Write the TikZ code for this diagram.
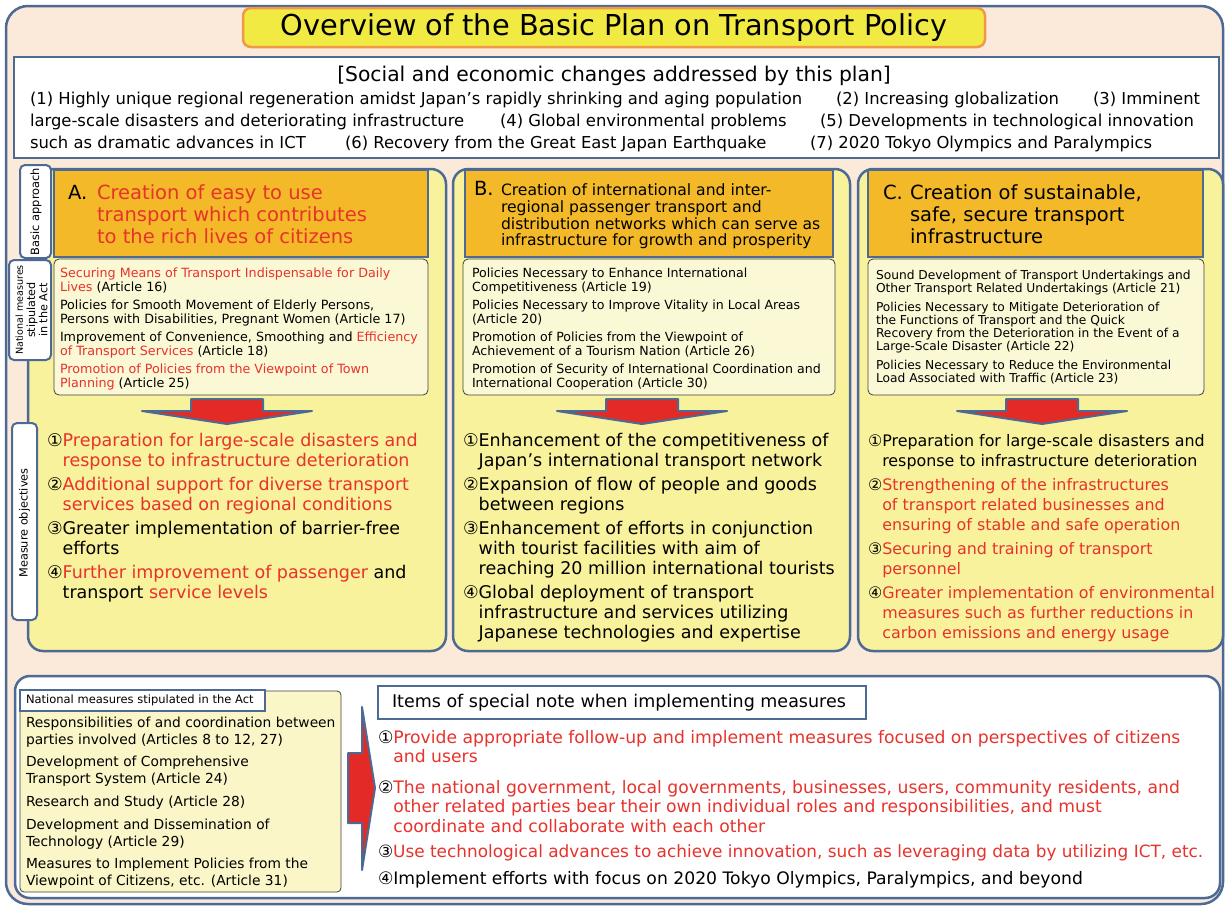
\documentclass[tikz,border=0pt]{standalone}
\usepackage{fontspec}
\setmainfont{DejaVu Sans}
\definecolor{bgpeach}{HTML}{FBE9DA}
\definecolor{frameblue}{HTML}{4C6A94}
\definecolor{titleyel}{HTML}{F1EA42}
\definecolor{titleorg}{HTML}{F0984A}
\definecolor{colyel}{HTML}{F8F29C}
\definecolor{headorg}{HTML}{F3B928}
\definecolor{paleyel}{HTML}{FBF8D6}
\definecolor{paleyelb}{HTML}{FAF6C8}
\definecolor{tred}{HTML}{E8322C}
\definecolor{arrred}{HTML}{E42A26}
\newcommand\myfs[2]{\fontsize{#1}{#2}\selectfont}
\begin{document}
\begin{tikzpicture}[x=1pt,y=-1pt,
  frame/.style={draw=frameblue, line width=2.5pt},
  txt/.style={inner sep=0pt, outer sep=0pt, anchor=north west, align=left},
  ltxt/.style={inner sep=0pt, outer sep=0pt, anchor=west},
  btxt/.style={inner sep=0pt, outer sep=0pt, anchor=base west},
  measbox/.style={draw=black!75, line width=0.8pt, fill=paleyel, rounded corners=5pt},
  colbox/.style={frame, fill=colyel, rounded corners=15pt},
  headbox/.style={frame, fill=headorg},
  sidebox/.style={draw=frameblue, line width=2pt, fill=white, rounded corners=5pt},
  blockarrow/.style={fill=arrred, draw=frameblue, line width=2pt, line join=round},
  downarr/.pic={\filldraw[blockarrow] (-36,-12)--(36,-12)--(36,0)--(85,0)--(0,13)--(-85,0)--(-36,0)--cycle;}
]
\useasboundingbox (0,0) rectangle (1228,908);
% outer frame
\draw[frame, fill=bgpeach, rounded corners=22pt] (6,6) rectangle (1223,904);
% title
\node[draw=titleorg, line width=2.5pt, fill=titleyel, rounded corners=8pt, minimum width=742pt, minimum height=39pt, inner sep=0pt, font=\myfs{28.8}{30}] (title) at (614,27.5) {Overview of the Basic Plan on Transport Policy};
% social changes
\draw[frame, fill=white] (14,57) rectangle (1219,158);
\node[btxt, anchor=base, font=\myfs{20.3}{22}] (sochead) at (614,81) {[Social and economic changes addressed by this plan]};
\begin{scope}[every node/.style={btxt, font=\myfs{16.4}{18}}]
\node (s1) at (30,104) {(1) Highly unique regional regeneration amidst Japan's rapidly shrinking and aging population};
\node (s2) at (836,104) {(2) Increasing globalization};
\node (s3) at (1093,104) {(3) Imminent};
\node (s3b) at (30,126) {large-scale disasters and deteriorating infrastructure};
\node (s4) at (500,126) {(4) Global environmental problems};
\node (s5) at (820,126) {(5) Developments in technological innovation};
\node (s5b) at (30,148) {such as dramatic advances in ICT};
\node (s6) at (345,148) {(6) Recovery from the Great East Japan Earthquake};
\node (s7) at (810,148) {(7) 2020 Tokyo Olympics and Paralympics};
\end{scope}
% ---------- column A
\draw[colbox] (28,169) rectangle (446,651);
\draw[headbox] (54,170) rectangle (428,257);
\node[btxt, font=\myfs{19.5}{22}] (hAl) at (68,199) {A.};
\node[txt, font=\myfs{19.5}{22}, text=tred] (hA) at (97,184.2) {Creation of easy to use\\transport which contributes\\to the rich lives of citizens};
\draw[measbox] (54,259) rectangle (428,395);
\node[txt, font=\myfs{12.7}{14}] (mA) at (60,267.9) {\textcolor{tred}{Securing Means of Transport Indispensable for Daily}\\\textcolor{tred}{Lives} (Article 16)\\[4pt]Policies for Smooth Movement of Elderly Persons,\\Persons with Disabilities, Pregnant Women (Article 17)\\[4pt]Improvement of Convenience, Smoothing and \textcolor{tred}{Efficiency}\\\textcolor{tred}{of Transport Services} (Article 18)\\[4pt]\textcolor{tred}{Promotion of Policies from the Viewpoint of Town}\\\textcolor{tred}{Planning} (Article 25)};
\pic (arrA) at (227,411) {downarr};
\node[txt, font=\myfs{17.5}{20}] (oA) at (47,433) {①\textcolor{tred}{Preparation for large-scale disasters and}\\\phantom{①}\textcolor{tred}{response to infrastructure deterioration}\\[4pt]②\textcolor{tred}{Additional support for diverse transport}\\\phantom{①}\textcolor{tred}{services based on regional conditions}\\[4pt]③Greater implementation of barrier-free\\\phantom{①}efforts\\[4pt]④\textcolor{tred}{Further improvement of passenger} and\\\phantom{①}transport \textcolor{tred}{service levels}};
% ---------- column B
\draw[colbox] (453,169) rectangle (850,651);
\draw[headbox] (465,170) rectangle (833,257);
\node[btxt, font=\myfs{19.5}{22}] (hBl) at (474,195.7) {B.};
\node[txt, font=\myfs{15.6}{16.7}] (hB) at (501,183.8) {Creation of international and inter-\\regional passenger transport and\\distribution networks which can serve as\\infrastructure for growth and prosperity};
\draw[measbox] (463,259) rectangle (835,395);
\node[txt, font=\myfs{12.6}{14}] (mB) at (472,268) {Policies Necessary to Enhance International\\Competitiveness (Article 19)\\[4pt]Policies Necessary to Improve Vitality in Local Areas\\(Article 20)\\[4pt]Promotion of Policies from the Viewpoint of\\Achievement of a Tourism Nation (Article 26)\\[4pt]Promotion of Security of International Coordination and\\International Cooperation (Article 30)};
\pic (arrB) at (642,411) {downarr};
\node[txt, font=\myfs{17.5}{20}] (oB) at (463,433) {①Enhancement of the competitiveness of\\\phantom{①}Japan's international transport network\\[4pt]②Expansion of flow of people and goods\\\phantom{①}between regions\\[4pt]③Enhancement of efforts in conjunction\\\phantom{①}with tourist facilities with aim of\\\phantom{①}reaching 20 million international tourists\\[4pt]④Global deployment of transport\\\phantom{①}infrastructure and services utilizing\\\phantom{①}Japanese technologies and expertise};
% ---------- column C
\draw[colbox] (858,169) rectangle (1223,651);
\draw[headbox] (868,170) rectangle (1203,257);
\node[btxt, font=\myfs{19.5}{22}] (hCl) at (883,199) {C.};
\node[txt, font=\myfs{19.5}{22}] (hC) at (910,184.2) {Creation of sustainable,\\safe, secure transport\\infrastructure};
\draw[measbox] (868,259) rectangle (1204,395);
\node[txt, font=\myfs{12.25}{13.3}] (mC) at (876,270.1) {Sound Development of Transport Undertakings and\\Other Transport Related Undertakings (Article 21)\\[5pt]Policies Necessary to Mitigate Deterioration of\\the Functions of Transport and the Quick\\Recovery from the Deterioration in the Event of a\\Large-Scale Disaster (Article 22)\\[5pt]Policies Necessary to Reduce the Environmental\\Load Associated with Traffic (Article 23)};
\pic (arrC) at (1042,411) {downarr};
\node[txt, font=\myfs{15.9}{20}] (oC) at (868,434) {①Preparation for large-scale disasters and\\\phantom{①}response to infrastructure deterioration\\[4pt]②\textcolor{tred}{Strengthening of the infrastructures}\\\phantom{①}\textcolor{tred}{of transport related businesses and}\\\phantom{①}\textcolor{tred}{ensuring of stable and safe operation}\\[4pt]③\textcolor{tred}{Securing and training of transport}\\\phantom{①}\textcolor{tred}{personnel}\\[4pt]④\textcolor{tred}{Greater implementation of environmental}\\\phantom{①}\textcolor{tred}{measures such as further reductions in}\\\phantom{①}\textcolor{tred}{carbon emissions and energy usage}};
% ---------- side labels
\draw[sidebox] (20,165) rectangle (51,258);
\node[inner sep=0pt, rotate=90, font=\myfs{11.4}{12}] (lbBasic) at (36,211.5) {Basic approach};
\draw[sidebox] (9,260) rectangle (51,360);
\node[inner sep=0pt, rotate=90, align=center, font=\myfs{11.2}{12.3}] (lbNat) at (31.5,310) {{\myfs{9.6}{12.3}National measures}\\stipulated\\in the Act};
\draw[sidebox] (12,423) rectangle (37,620);
\node[inner sep=0pt, rotate=90, font=\myfs{11.3}{12}] (lbObj) at (24.5,523) {Measure objectives};
% ---------- bottom section
\draw[frame, fill=white, rounded corners=15pt] (15,676) rectangle (1220,898);
\draw[draw=black!75, line width=0.8pt, fill=paleyelb, rounded corners=4pt] (20,691) rectangle (341,892);
\draw[draw=frameblue, line width=2.5pt, fill=white] (20,690) rectangle (265,711);
\node[ltxt, font=\myfs{11.5}{13}] (natlab) at (26,700.5) {National measures stipulated in the Act};
\node[txt, font=\myfs{13.8}{17}] (natitems) at (26,717.5) {Responsibilities of and coordination between\\parties involved (Articles 8 to 12, 27)\\[5pt]Development of Comprehensive\\Transport System (Article 24)\\[5.5pt]Research and Study (Article 28)\\[6pt]Development and Dissemination of\\Technology (Article 29)\\[5pt]Measures to Implement Policies from the\\Viewpoint of Citizens, etc. (Article 31)};
\filldraw[blockarrow] (348,753) -- (362,753) -- (362,707) -- (375,788) -- (362,870) -- (362,823) -- (348,823) -- cycle;
\draw[frame, fill=white] (378,686) rectangle (866,719);
\node[ltxt, font=\myfs{17.5}{19}] (itemshead) at (392,702.5) {Items of special note when implementing measures};
\begin{scope}[every node/.style={txt, font=\myfs{17.2}{19.5}}]
\node (it1) at (378,730.2) {①\textcolor{tred}{Provide appropriate follow-up and implement measures focused on perspectives of citizens}\\\phantom{①}\textcolor{tred}{and users}};
\node (it2) at (378,780.2) {②\textcolor{tred}{The national government, local governments, businesses, users, community residents, and}\\\phantom{①}\textcolor{tred}{other related parties bear their own individual roles and responsibilities, and must}\\\phantom{①}\textcolor{tred}{coordinate and collaborate with each other}};
\node[font=\myfs{16.9}{19.5}] (it3) at (378,844.3) {③\textcolor{tred}{Use technological advances to achieve innovation, such as leveraging data by utilizing ICT, etc.}};
\node (it4) at (378,871.2) {④Implement efforts with focus on 2020 Tokyo Olympics, Paralympics, and beyond};
\end{scope}
\end{tikzpicture}
\end{document}
